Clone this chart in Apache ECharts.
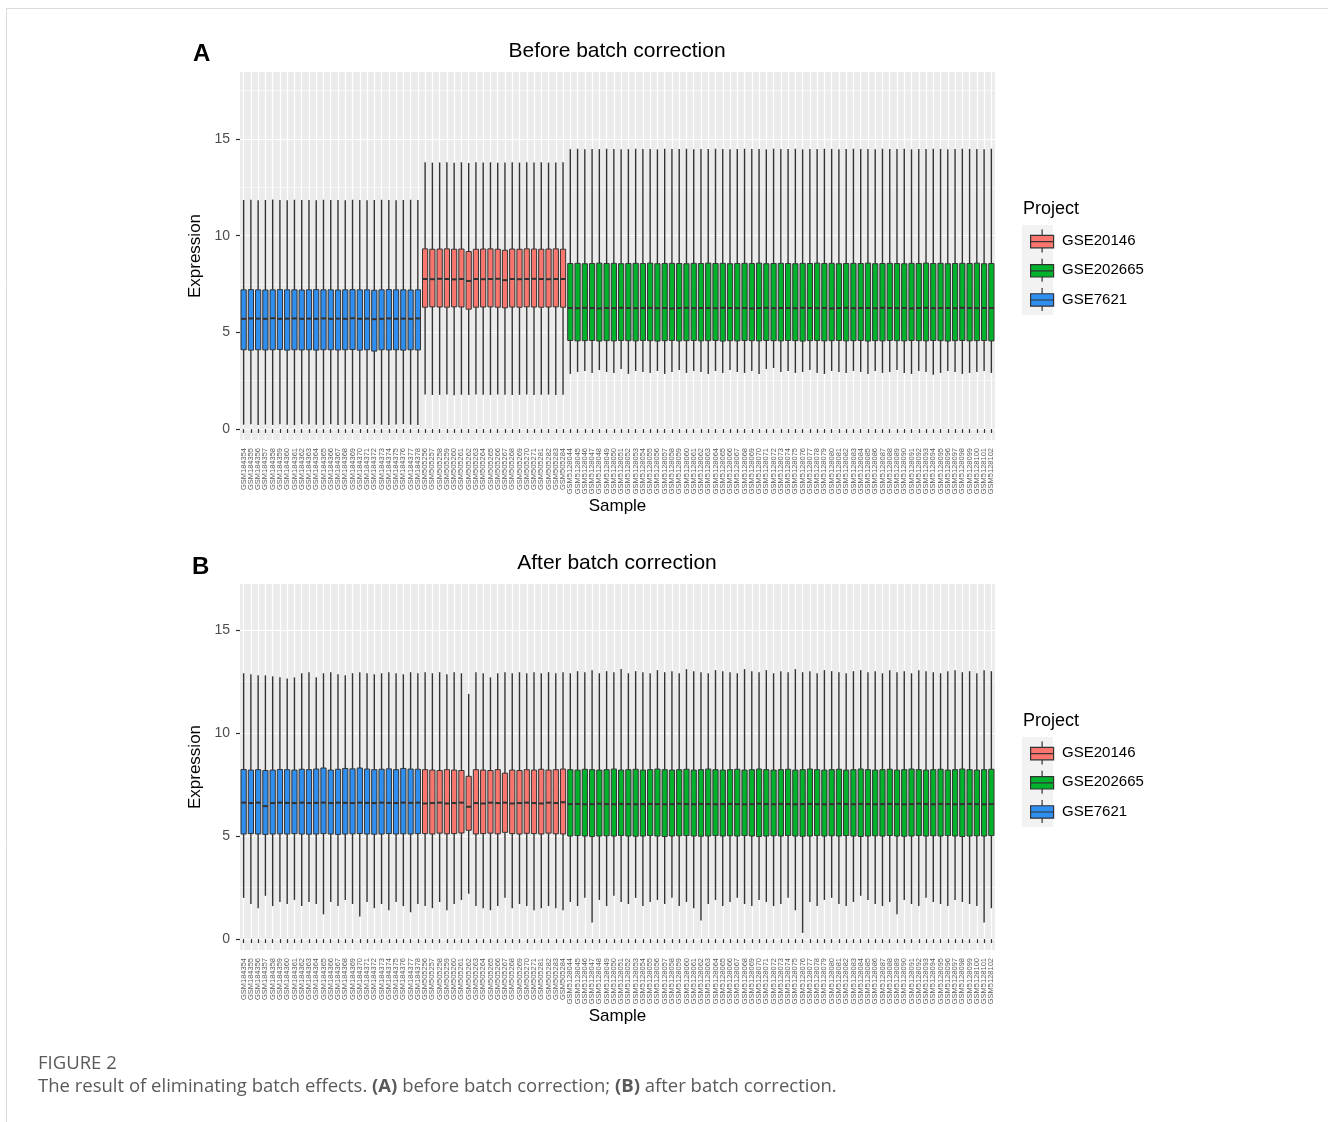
<!DOCTYPE html>
<html><head><meta charset="utf-8">
<script src="https://cdn.jsdelivr.net/npm/echarts@6/dist/echarts.min.js"></script>
<style>html,body{margin:0;padding:0;background:#fff}#chart{width:1328px;height:1122px}</style>
</head><body><div id="chart"></div>
<script>
// ---------- categories ----------
const samplesGSE7621 = ['GSM184354','GSM184355','GSM184356','GSM184357','GSM184358','GSM184359','GSM184360','GSM184361','GSM184362','GSM184363','GSM184364','GSM184365','GSM184366','GSM184367','GSM184368','GSM184369','GSM184370','GSM184371','GSM184372','GSM184373','GSM184374','GSM184375','GSM184376','GSM184377','GSM184378'];
const samplesGSE20146 = ['GSM505256','GSM505257','GSM505258','GSM505259','GSM505260','GSM505261','GSM505262','GSM505263','GSM505264','GSM505265','GSM505266','GSM505267','GSM505268','GSM505269','GSM505270','GSM505271','GSM505281','GSM505282','GSM505283','GSM505284'];
const samplesGSE202665 = ['GSM5128044','GSM5128045','GSM5128046','GSM5128047','GSM5128048','GSM5128049','GSM5128050','GSM5128051','GSM5128052','GSM5128053','GSM5128054','GSM5128055','GSM5128056','GSM5128057','GSM5128058','GSM5128059','GSM5128060','GSM5128061','GSM5128062','GSM5128063','GSM5128064','GSM5128065','GSM5128066','GSM5128067','GSM5128068','GSM5128069','GSM5128070','GSM5128071','GSM5128072','GSM5128073','GSM5128074','GSM5128075','GSM5128076','GSM5128077','GSM5128078','GSM5128079','GSM5128080','GSM5128081','GSM5128082','GSM5128083','GSM5128084','GSM5128085','GSM5128086','GSM5128087','GSM5128088','GSM5128089','GSM5128090','GSM5128091','GSM5128092','GSM5128093','GSM5128094','GSM5128095','GSM5128096','GSM5128097','GSM5128098','GSM5128099','GSM5128100','GSM5128101','GSM5128102'];
const projects = ['GSE20146','GSE202665','GSE7621'];
const yTicks = [0, 5, 10, 15];
const yMinorTicks = [2.5, 7.5, 12.5, 17.5];

// ---------- Panel A: before batch correction ----------
// GSE7621 (25)
const aLow7621  = [0.22,0.25,0.20,0.23,0.21,0.24,0.22,0.20,0.25,0.23,0.22,0.21,0.24,0.20,0.22,0.26,0.23,0.21,0.24,0.22,0.20,0.23,0.25,0.22,0.21];
const aQ1_7621  = [4.10,4.08,4.10,4.09,4.10,4.11,4.08,4.10,4.09,4.10,4.08,4.10,4.10,4.09,4.10,4.11,4.08,4.10,4.03,4.10,4.09,4.10,4.08,4.10,4.09];
const aMed7621  = [5.70,5.72,5.71,5.70,5.73,5.70,5.71,5.72,5.70,5.71,5.70,5.72,5.70,5.71,5.70,5.73,5.70,5.71,5.68,5.70,5.72,5.70,5.71,5.70,5.72];
const aQ3_7621  = [7.20,7.21,7.20,7.19,7.20,7.21,7.20,7.20,7.19,7.20,7.21,7.20,7.20,7.19,7.20,7.21,7.20,7.20,7.18,7.20,7.21,7.20,7.20,7.19,7.20];
const aHigh7621 = [11.85,11.86,11.84,11.85,11.87,11.85,11.84,11.86,11.85,11.85,11.84,11.86,11.85,11.85,11.84,11.86,11.85,11.84,11.85,11.86,11.85,11.84,11.85,11.86,11.85];
// GSE20146 (20)
const aLow20146  = [1.78,1.76,1.77,1.78,1.75,1.77,1.76,1.78,1.77,1.76,1.78,1.77,1.76,1.77,1.78,1.76,1.77,1.78,1.76,1.77];
const aQ1_20146  = [6.30,6.32,6.31,6.30,6.32,6.31,6.20,6.30,6.31,6.32,6.30,6.27,6.31,6.30,6.32,6.31,6.30,6.31,6.32,6.30];
const aMed20146  = [7.76,7.75,7.77,7.76,7.74,7.76,7.66,7.76,7.75,7.76,7.77,7.70,7.76,7.75,7.76,7.77,7.76,7.75,7.76,7.76];
const aQ3_20146  = [9.32,9.30,9.31,9.32,9.30,9.31,9.18,9.30,9.31,9.32,9.30,9.25,9.31,9.30,9.32,9.31,9.30,9.31,9.32,9.30];
const aHigh20146 = [13.80,13.78,13.79,13.80,13.78,13.80,13.76,13.80,13.79,13.80,13.78,13.79,13.80,13.78,13.80,13.79,13.80,13.78,13.79,13.80];
// GSE202665 (59)
const aLow202665  = [2.85,2.95,3.00,2.90,3.05,2.95,2.90,3.10,2.85,3.00,2.95,2.90,3.00,2.85,2.95,3.05,2.90,3.00,2.95,2.85,3.00,2.90,3.05,2.95,2.90,3.00,2.85,3.10,3.15,2.95,3.00,2.90,2.95,3.05,2.90,2.85,3.00,2.95,2.90,3.00,2.95,2.85,3.00,2.90,2.95,3.05,2.90,2.85,3.00,2.95,2.80,2.90,3.00,2.95,2.85,2.90,2.95,3.00,2.90];
const aQ1_202665  = [4.58,4.56,4.57,4.58,4.55,4.57,4.56,4.58,4.57,4.56,4.58,4.57,4.55,4.57,4.58,4.56,4.57,4.58,4.56,4.57,4.58,4.55,4.57,4.56,4.58,4.57,4.56,4.58,4.57,4.56,4.58,4.57,4.55,4.57,4.58,4.56,4.57,4.58,4.56,4.57,4.58,4.55,4.57,4.56,4.58,4.57,4.56,4.58,4.57,4.56,4.58,4.57,4.55,4.57,4.58,4.56,4.57,4.58,4.56];
const aMed202665  = [6.26,6.25,6.27,6.26,6.24,6.26,6.25,6.27,6.26,6.25,6.26,6.27,6.25,6.26,6.24,6.26,6.27,6.25,6.26,6.26,6.25,6.27,6.26,6.25,6.26,6.24,6.26,6.27,6.25,6.26,6.26,6.25,6.27,6.26,6.25,6.26,6.24,6.26,6.27,6.25,6.26,6.26,6.25,6.27,6.26,6.25,6.26,6.24,6.26,6.27,6.25,6.26,6.26,6.25,6.27,6.26,6.25,6.26,6.26];
const aQ3_202665  = [8.56,8.57,8.55,8.56,8.58,8.56,8.57,8.55,8.56,8.57,8.56,8.58,8.55,8.56,8.57,8.56,8.55,8.57,8.56,8.58,8.56,8.57,8.55,8.56,8.57,8.56,8.58,8.55,8.56,8.57,8.56,8.55,8.57,8.56,8.58,8.56,8.57,8.55,8.56,8.57,8.56,8.58,8.55,8.56,8.57,8.56,8.55,8.57,8.56,8.58,8.56,8.57,8.55,8.56,8.57,8.56,8.58,8.55,8.56];
const aHigh202665 = [14.48,14.50,14.47,14.49,14.48,14.50,14.49,14.47,14.48,14.50,14.49,14.48,14.47,14.50,14.49,14.48,14.50,14.47,14.49,14.48,14.50,14.49,14.47,14.48,14.50,14.49,14.48,14.47,14.50,14.49,14.48,14.50,14.47,14.49,14.48,14.50,14.49,14.47,14.48,14.50,14.49,14.48,14.47,14.50,14.49,14.48,14.50,14.47,14.49,14.48,14.50,14.49,14.47,14.48,14.50,14.49,14.48,14.47,14.50];

// ---------- Panel B: after batch correction ----------
const bLow7621  = [2.00,1.70,1.50,2.10,1.60,1.80,1.70,1.90,1.60,1.80,1.70,1.20,1.80,1.60,1.90,1.70,1.10,1.80,1.50,1.70,1.40,1.80,1.60,1.30,1.70];
const bQ1_7621  = [5.10,5.12,5.10,5.08,5.10,5.11,5.10,5.12,5.10,5.09,5.10,5.12,5.10,5.08,5.10,5.11,5.12,5.10,5.09,5.10,5.12,5.10,5.11,5.10,5.12];
const bMed7621  = [6.62,6.60,6.62,6.45,6.60,6.62,6.61,6.60,6.62,6.60,6.61,6.62,6.60,6.62,6.61,6.60,6.62,6.61,6.60,6.62,6.61,6.60,6.62,6.61,6.62];
const bQ3_7621  = [8.23,8.20,8.22,8.18,8.20,8.23,8.22,8.20,8.24,8.22,8.25,8.30,8.20,8.24,8.28,8.26,8.30,8.25,8.22,8.24,8.26,8.22,8.28,8.25,8.24];
const bHigh7621 = [12.90,12.85,12.80,12.80,12.75,12.70,12.65,12.70,12.90,12.95,12.70,12.90,12.95,12.85,12.80,12.90,12.95,12.90,12.85,12.90,12.95,12.90,12.85,12.95,12.90];
const bLow20146  = [1.60,1.50,1.80,1.40,1.70,1.90,2.20,1.60,1.50,1.40,1.60,2.00,1.50,1.70,1.60,1.40,1.50,1.60,1.50,1.40];
const bQ1_20146  = [5.12,5.10,5.14,5.11,5.12,5.15,5.28,5.10,5.12,5.14,5.11,5.18,5.12,5.10,5.13,5.12,5.10,5.14,5.11,5.10];
const bMed20146  = [6.58,6.60,6.62,6.58,6.60,6.62,6.42,6.60,6.58,6.62,6.60,6.62,6.58,6.60,6.62,6.60,6.58,6.62,6.60,6.64];
const bQ3_20146  = [8.22,8.20,8.18,8.22,8.20,8.18,7.90,8.22,8.20,8.18,8.22,8.05,8.20,8.18,8.22,8.20,8.24,8.20,8.22,8.25];
const bHigh20146 = [12.95,12.90,12.95,12.85,12.95,12.90,11.90,12.95,12.90,12.70,12.90,12.95,12.90,12.95,12.90,12.95,12.90,12.95,12.90,12.95];
const bLow202665  = [1.80,1.60,2.00,0.80,1.90,1.60,2.10,1.80,1.70,2.00,1.60,1.80,1.90,1.70,2.00,1.60,1.80,1.50,0.90,1.70,1.90,1.60,1.80,2.00,1.70,1.60,1.90,1.80,1.60,1.70,2.00,1.40,0.30,1.80,1.60,1.90,2.00,1.70,1.60,1.80,2.10,1.90,1.70,1.60,1.80,1.20,1.90,1.70,1.60,2.00,1.80,1.70,1.60,1.90,1.80,1.70,1.60,0.80,1.50];
const bQ1_202665  = [5.00,5.02,5.00,4.98,5.00,5.01,5.00,5.02,5.00,4.99,5.00,5.02,5.00,4.98,5.00,5.01,5.02,5.00,4.99,5.00,5.02,5.00,5.01,5.00,5.02,5.00,4.98,5.00,5.01,5.00,5.02,5.00,4.99,5.00,5.02,5.00,5.01,5.00,5.02,5.00,4.98,5.00,5.01,5.00,5.02,5.00,4.99,5.00,5.02,5.00,5.01,5.00,5.02,5.00,4.98,5.00,5.01,5.00,5.02];
const bMed202665  = [6.55,6.56,6.54,6.55,6.57,6.55,6.54,6.56,6.55,6.54,6.55,6.56,6.55,6.54,6.55,6.57,6.55,6.54,6.56,6.55,6.54,6.55,6.56,6.55,6.54,6.55,6.57,6.55,6.54,6.56,6.55,6.54,6.55,6.56,6.55,6.54,6.55,6.57,6.55,6.54,6.56,6.55,6.54,6.55,6.56,6.55,6.54,6.55,6.57,6.55,6.54,6.56,6.55,6.54,6.55,6.56,6.55,6.54,6.55];
const bQ3_202665  = [8.22,8.20,8.24,8.22,8.20,8.22,8.25,8.20,8.22,8.24,8.20,8.22,8.25,8.22,8.20,8.22,8.24,8.20,8.22,8.25,8.22,8.20,8.22,8.24,8.20,8.22,8.25,8.22,8.20,8.22,8.24,8.20,8.22,8.25,8.22,8.20,8.22,8.24,8.20,8.22,8.25,8.22,8.20,8.22,8.24,8.20,8.22,8.25,8.22,8.20,8.22,8.24,8.20,8.22,8.25,8.22,8.20,8.22,8.24];
const bHigh202665 = [12.90,13.00,12.95,13.05,12.90,13.00,12.95,13.10,12.90,13.00,12.95,12.90,13.05,12.95,13.00,12.90,13.10,13.00,12.95,12.90,13.05,13.00,12.95,12.90,13.10,13.00,12.95,13.05,12.90,13.00,12.95,13.10,12.95,13.00,12.90,13.05,13.00,12.95,12.90,13.00,13.05,12.95,13.00,12.90,13.05,12.95,13.00,12.90,13.05,13.00,12.95,12.90,13.00,13.05,12.95,13.00,12.90,13.05,13.00];

// ---------- styles ----------
const projectColors = {GSE20146: '#F8766D', GSE202665: '#00B22C', GSE7621: '#2E8FF0'};
const FONT = '"Liberation Sans", Arial, sans-serif';
const CAPFONT = '"Open Sans", sans-serif';
const categories = samplesGSE7621.concat(samplesGSE20146, samplesGSE202665);

function buildBoxData(groups) {
  const out = [];
  groups.forEach(g => {
    for (let i = 0; i < g.low.length; i++) {
      out.push({
        value: [out.length, g.low[i], g.q1[i], g.med[i], g.q3[i], g.high[i]],
        project: g.project
      });
    }
  });
  return out;
}
const dataA = buildBoxData([
  {project: 'GSE7621', low: aLow7621, q1: aQ1_7621, med: aMed7621, q3: aQ3_7621, high: aHigh7621},
  {project: 'GSE20146', low: aLow20146, q1: aQ1_20146, med: aMed20146, q3: aQ3_20146, high: aHigh20146},
  {project: 'GSE202665', low: aLow202665, q1: aQ1_202665, med: aMed202665, q3: aQ3_202665, high: aHigh202665}
]);
const dataB = buildBoxData([
  {project: 'GSE7621', low: bLow7621, q1: bQ1_7621, med: bMed7621, q3: bQ3_7621, high: bHigh7621},
  {project: 'GSE20146', low: bLow20146, q1: bQ1_20146, med: bMed20146, q3: bQ3_20146, high: bHigh20146},
  {project: 'GSE202665', low: bLow202665, q1: bQ1_202665, med: bMed202665, q3: bQ3_202665, high: bHigh202665}
]);

function makeRenderer(data) {
  return function (params, api) {
    const idx = api.value(0);
    const pLow = api.coord([idx, api.value(1)]);
    const pQ1 = api.coord([idx, api.value(2)]);
    const pMed = api.coord([idx, api.value(3)]);
    const pQ3 = api.coord([idx, api.value(4)]);
    const pHigh = api.coord([idx, api.value(5)]);
    const bw = api.size([1, 0])[0] * 0.72;
    const cx = pLow[0];
    const color = projectColors[data[params.dataIndex].project];
    const dark = '#333333';
    return {
      type: 'group',
      children: [
        {type: 'line', shape: {x1: cx, y1: pLow[1], x2: cx, y2: pQ1[1]}, style: {stroke: dark, lineWidth: 1.4}},
        {type: 'line', shape: {x1: cx, y1: pQ3[1], x2: cx, y2: pHigh[1]}, style: {stroke: dark, lineWidth: 1.4}},
        {type: 'rect', shape: {x: cx - bw / 2, y: pQ3[1], width: bw, height: pQ1[1] - pQ3[1]},
         style: {fill: color, stroke: dark, lineWidth: 1}},
        {type: 'line', shape: {x1: cx - bw / 2, y1: pMed[1], x2: cx + bw / 2, y2: pMed[1]}, style: {stroke: dark, lineWidth: 2}}
      ]
    };
  };
}

function xAxisDef(gridIndex) {
  return {
    type: 'category', gridIndex: gridIndex, data: categories, boundaryGap: true,
    axisLine: {show: false},
    axisTick: {show: true, alignWithLabel: true, interval: 0, length: 4, lineStyle: {color: '#333', width: 1.2}},
    axisLabel: {interval: 0, rotate: 90, fontSize: 7.5, color: '#5A5A5A', margin: 8, fontFamily: FONT},
    splitLine: {show: true, alignWithLabel: true, interval: 0, lineStyle: {color: '#FFFFFF', width: 1.2}},
    name: 'Sample', nameLocation: 'middle', nameGap: 55,
    nameTextStyle: {fontSize: 17, color: '#000', fontFamily: FONT}
  };
}
function yAxisMajor(gridIndex, min, max) {
  return {
    type: 'value', gridIndex: gridIndex, min: min, max: max, position: 'left',
    axisLine: {show: false},
    axisTick: {show: true, length: 4, customValues: yTicks, lineStyle: {color: '#333', width: 1.2}},
    axisLabel: {customValues: yTicks, fontSize: 14, color: '#4D4D4D', margin: 10, fontFamily: FONT},
    splitLine: {show: true, lineStyle: {color: '#FFFFFF', width: 1.2}},
    name: 'Expression', nameLocation: 'middle', nameGap: 30,
    nameTextStyle: {fontSize: 17, color: '#000', fontFamily: FONT}
  };
}
function yAxisMinor(gridIndex, min, max) {
  return {
    type: 'value', gridIndex: gridIndex, min: min, max: max, position: 'left',
    axisLine: {show: false},
    axisTick: {show: false, customValues: yMinorTicks},
    axisLabel: {show: false, customValues: yMinorTicks},
    splitLine: {show: true, lineStyle: {color: '#FFFFFF', width: 0.6}}
  };
}
const legendIcon = 'path://M12,0L12,6M0,6L24,6L24,19L0,19ZM0,12.5L24,12.5M12,19L12,24';
function legendDef(top) {
  return {
    orient: 'vertical', left: 1025, top: top, itemWidth: 24, itemHeight: 23, itemGap: 5,
    data: projects.map(p => ({name: p, icon: legendIcon})),
    itemStyle: {borderColor: '#333', borderWidth: 1.2},
    textStyle: {fontSize: 15, color: '#000', fontFamily: FONT, padding: [0, 0, 0, 3]},
    selectedMode: false
  };
}

const option = {
  backgroundColor: '#FFFFFF',
  animation: false,
  title: [
    {text: 'Before batch correction', left: 617, top: 41, textAlign: 'center', padding: 0,
     textStyle: {fontSize: 21, fontWeight: 'normal', color: '#000', fontFamily: FONT}},
    {text: 'A', left: 193, top: 42, padding: 0, textStyle: {fontSize: 24, fontWeight: 'bold', color: '#000', fontFamily: FONT}},
    {text: 'Project', left: 1023, top: 200, padding: 0, textStyle: {fontSize: 18, fontWeight: 'normal', color: '#000', fontFamily: FONT}},
    {text: 'After batch correction', left: 617, top: 553, textAlign: 'center', padding: 0,
     textStyle: {fontSize: 21, fontWeight: 'normal', color: '#000', fontFamily: FONT}},
    {text: 'B', left: 192, top: 555, padding: 0, textStyle: {fontSize: 24, fontWeight: 'bold', color: '#000', fontFamily: FONT}},
    {text: 'Project', left: 1023, top: 712, padding: 0, textStyle: {fontSize: 18, fontWeight: 'normal', color: '#000', fontFamily: FONT}},
    {text: 'FIGURE 2', left: 38, top: 1054, padding: 0,
     textStyle: {fontSize: 18.5, fontWeight: 'normal', color: '#5A5A5A', fontFamily: CAPFONT}},
    {text: '{n|The result of eliminating batch effects. }{b|(A)}{n| before batch correction; }{b|(B)}{n| after batch correction.}',
     left: 38, top: 1077, padding: 0,
     textStyle: {fontSize: 18.5, fontWeight: 'normal', color: '#5A5A5A', fontFamily: CAPFONT,
       rich: {n: {fontSize: 18.5, fontWeight: 'normal', color: '#5A5A5A', fontFamily: CAPFONT},
              b: {fontSize: 18.5, fontWeight: 'bold', color: '#5A5A5A', fontFamily: CAPFONT}}}}
  ],
  legend: [legendDef(224), legendDef(736)],
  grid: [
    {left: 240, top: 72, width: 755, height: 368, show: true, backgroundColor: '#EBEBEB', borderWidth: 0},
    {left: 240, top: 584, width: 755, height: 366, show: true, backgroundColor: '#EBEBEB', borderWidth: 0}
  ],
  xAxis: [xAxisDef(0), xAxisDef(1)],
  yAxis: [yAxisMajor(0, -0.57, 18.47), yAxisMinor(0, -0.57, 18.47), yAxisMajor(1, -0.53, 17.23), yAxisMinor(1, -0.53, 17.23)],
  graphic: [
    {type: 'rect', left: 1022, top: 225, shape: {width: 31, height: 90}, style: {fill: '#F2F2F2'}, z: -1},
    {type: 'rect', left: 1022, top: 737, shape: {width: 31, height: 90}, style: {fill: '#F2F2F2'}, z: -1},
    {type: 'line', shape: {x1: 6, y1: 8.5, x2: 1328, y2: 8.5}, style: {stroke: '#DADADA', lineWidth: 1}},
    {type: 'line', shape: {x1: 6.5, y1: 8, x2: 6.5, y2: 1122}, style: {stroke: '#DADADA', lineWidth: 1}}
  ],
  series: [
    {type: 'custom', name: 'Before', xAxisIndex: 0, yAxisIndex: 0, data: dataA,
     encode: {x: 0, y: [1, 2, 3, 4, 5]}, renderItem: makeRenderer(dataA), clip: true, silent: true},
    {type: 'custom', name: 'After', xAxisIndex: 1, yAxisIndex: 2, data: dataB,
     encode: {x: 0, y: [1, 2, 3, 4, 5]}, renderItem: makeRenderer(dataB), clip: true, silent: true},
    {type: 'bar', name: 'GSE20146', xAxisIndex: 0, yAxisIndex: 0, data: [], itemStyle: {color: projectColors.GSE20146}},
    {type: 'bar', name: 'GSE202665', xAxisIndex: 0, yAxisIndex: 0, data: [], itemStyle: {color: projectColors.GSE202665}},
    {type: 'bar', name: 'GSE7621', xAxisIndex: 0, yAxisIndex: 0, data: [], itemStyle: {color: projectColors.GSE7621}}
  ]
};
const chart = echarts.init(document.getElementById('chart'), null, {renderer: 'canvas'});
chart.setOption(option);
</script>
</body></html>
